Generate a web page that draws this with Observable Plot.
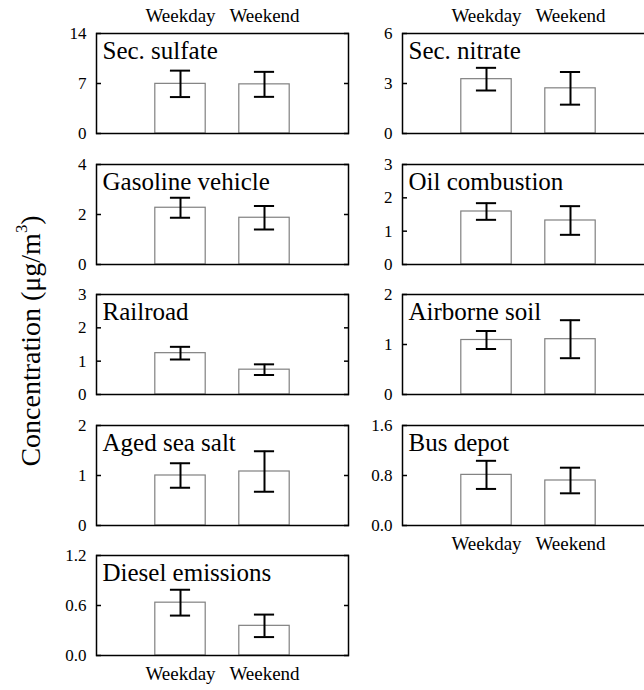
<!DOCTYPE html>
<html><head><meta charset="utf-8">
<script src="https://cdn.jsdelivr.net/npm/d3@7"></script>
<script src="https://cdn.jsdelivr.net/npm/@observablehq/plot@0.6"></script>
<style>
body{margin:0;background:#fff;}
#chart{position:relative;width:644px;height:690px;overflow:hidden;background:#fff;font-family:"Liberation Serif","Times New Roman",serif;color:#000;}
#chart svg, #chart svg text, #chart svg tspan{font-family:"Liberation Serif","Times New Roman",serif !important;}
#ylabel{position:absolute;left:31px;top:341px;transform:translate(-50%,-50%) rotate(-90deg);white-space:nowrap;font-size:28px;line-height:1;}
#ylabel sup{font-size:0.6em;vertical-align:0.75em;line-height:0;}
</style></head>
<body><div id="chart"><div id="ylabel">Concentration (μg/m<sup>3</sup>)</div></div>
<script>
const categories = ["Weekday", "Weekend"];
const sources = ["Sec. sulfate", "Sec. nitrate", "Gasoline vehicle", "Oil combustion", "Railroad", "Airborne soil", "Aged sea salt", "Bus depot", "Diesel emissions"];
const weekdayMean = [6.95, 3.26, 2.27, 1.59, 1.24, 1.09, 1.0, 0.81, 0.634];
const weekdayErr  = [1.85, 0.68, 0.40, 0.25, 0.19, 0.18, 0.245, 0.225, 0.155];
const weekendMean = [6.88, 2.71, 1.87, 1.32, 0.745, 1.106, 1.08, 0.72, 0.356];
const weekendErr  = [1.75, 0.98, 0.47, 0.43, 0.16, 0.38, 0.405, 0.205, 0.135];
const yMax = [14, 6, 4, 3, 3, 2, 2, 1.6, 1.2];
const yTicks = [[0,7,14],[0,3,6],[0,2,4],[0,1,2,3],[0,1,2,3],[0,1,2],[0,1,2],[0,0.8,1.6],[0,0.6,1.2]];
const tickDecimals = [0,0,0,0,0,0,0,1,1];

const FONT = '"Liberation Serif", "Times New Roman", serif';
const W = 252, H = 100, mL = 50, mR = 4, mT = 34, mB = 34;
const colLeft = [96, 402];
const rowTop = [33, 163.5, 294, 424.5, 555];
const chart = document.getElementById("chart");

sources.forEach((name, i) => {
  const col = i % 2, row = Math.floor(i / 2);
  const rows = categories.map((c, j) => ({
    cat: c, pos: j + 1,
    value: j === 0 ? weekdayMean[i] : weekendMean[i],
    err: j === 0 ? weekdayErr[i] : weekendErr[i]
  }));
  const fmt = d => d.toFixed(tickDecimals[i]);
  const topAxis = row === 0;
  const bottomAxis = i === 7 || i === 8;
  const marks = [
    Plot.rectY(rows, {x1: d => d.pos - 0.3, x2: d => d.pos + 0.3, y1: 0, y2: "value", fill: "white", stroke: "#808080", strokeWidth: 1.2}),
    Plot.ruleX(rows, {x: "pos", y1: d => d.value - d.err, y2: d => d.value + d.err, stroke: "black", strokeWidth: 2}),
    Plot.ruleY(rows, {y: d => d.value + d.err, x1: d => d.pos - 0.12, x2: d => d.pos + 0.12, stroke: "black", strokeWidth: 2}),
    Plot.ruleY(rows, {y: d => d.value - d.err, x1: d => d.pos - 0.12, x2: d => d.pos + 0.12, stroke: "black", strokeWidth: 2}),
    Plot.frame({stroke: "black", strokeWidth: 1.5}),
    Plot.axisY({anchor: "left", ticks: yTicks[i], tickSize: -5, tickPadding: 15, tickFormat: fmt, fontSize: 17, fontFamily: FONT, strokeWidth: 1.5, label: null}),
    Plot.axisY({anchor: "right", ticks: yTicks[i], tickSize: -5, tickFormat: () => "", strokeWidth: 1.5, label: null}),
    Plot.text([name], {text: d => d, frameAnchor: "top-left", dx: 6, dy: 8, lineAnchor: "top", textAnchor: "start", fontSize: 25, fontFamily: FONT})
  ];
  if (topAxis) marks.push(Plot.axisX({anchor: "top", ticks: [1, 2], tickFormat: d => categories[d - 1], tickSize: 0, tickPadding: 12, fontSize: 19, fontFamily: FONT, label: null}));
  if (bottomAxis) marks.push(Plot.axisX({anchor: "bottom", ticks: [1, 2], tickFormat: d => categories[d - 1], tickSize: 0, tickPadding: 11, fontSize: 19, fontFamily: FONT, label: null}));
  const xOpts = {domain: [0, 3]};
  if (!topAxis && !bottomAxis) xOpts.axis = null;
  const svg = Plot.plot({
    width: W + mL + mR, height: H + mT + mB,
    marginLeft: mL, marginRight: mR, marginTop: mT, marginBottom: mB,
    x: xOpts,
    y: {domain: [0, yMax[i]]},
    style: {fontFamily: FONT, fontSize: "17px", color: "black", background: "transparent", overflow: "visible"},
    marks
  });
  svg.setAttribute("font-family", FONT);
  svg.style.position = "absolute";
  svg.style.left = (colLeft[col] - mL) + "px";
  svg.style.top = (rowTop[row] - mT) + "px";
  chart.appendChild(svg);
});
</script></body></html>
